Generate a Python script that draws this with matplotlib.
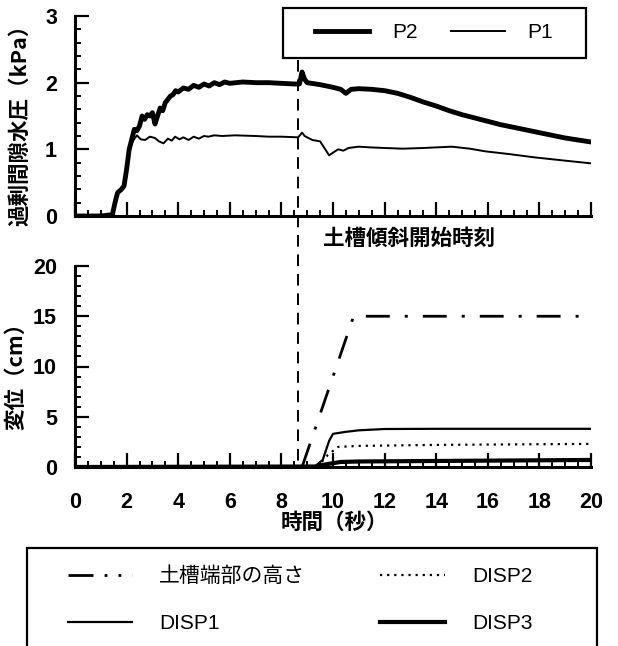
"""Excess pore pressure and displacement time histories."""

import matplotlib
matplotlib.use('Agg')
from matplotlib import pyplot
from matplotlib.lines import Line2D
from matplotlib.patches import Rectangle
from matplotlib.ticker import MultipleLocator

# Excess pore water pressure (kPa).
t_p2 = [0, 1.0, 1.45, 1.55, 1.65, 1.8, 1.9, 2.0, 2.1, 2.2, 2.3, 2.4, 2.5,
        2.6, 2.7, 2.8, 2.9, 3.0, 3.1, 3.2, 3.3, 3.4, 3.5, 3.6, 3.7, 3.8,
        3.9, 4.0, 4.2, 4.4, 4.6, 4.8, 5.0, 5.2, 5.4, 5.6, 5.8, 6.0, 6.5,
        7.0, 7.5, 8.0, 8.5, 8.7, 8.8, 8.9, 9.0, 9.5, 10.0, 10.3, 10.5, 10.7,
        11.0, 11.5, 12.0, 12.5, 13.0, 13.5, 14.0, 14.5, 15.0, 15.5, 16.0,
        16.5, 17.0, 17.5, 18.0, 18.5, 19.0, 19.5, 20.0]
p2 = [0, 0.0, 0.02, 0.2, 0.35, 0.4, 0.45, 0.7, 1.0, 1.15, 1.3, 1.28, 1.35,
      1.5, 1.45, 1.52, 1.5, 1.55, 1.38, 1.5, 1.62, 1.58, 1.7, 1.75, 1.8,
      1.82, 1.88, 1.86, 1.92, 1.9, 1.96, 1.93, 1.98, 1.95, 2.0, 1.97, 2.01,
      1.99, 2.01, 2.0, 2.0, 1.99, 1.98, 1.98, 2.16, 2.05, 2.0, 1.97, 1.93,
      1.9, 1.84, 1.9, 1.91, 1.9, 1.88, 1.84, 1.78, 1.71, 1.65, 1.58, 1.52,
      1.47, 1.42, 1.37, 1.33, 1.29, 1.25, 1.21, 1.17, 1.14, 1.11]
t_p1 = [0, 1.0, 1.45, 1.55, 1.65, 1.8, 1.9, 2.0, 2.1, 2.2, 2.27, 2.4, 2.55,
        2.72, 2.9, 3.1, 3.25, 3.43, 3.6, 3.75, 3.88, 4.05, 4.2, 4.4, 4.6,
        4.8, 5.0, 5.17, 5.4, 5.7, 6.2, 7.0, 7.5, 8.0, 8.65, 8.8, 8.9, 9.2,
        9.5, 9.7, 9.85, 10.0, 10.2, 10.4, 10.6, 11.0, 11.4, 12.0, 12.7, 13.5,
        14.6, 15.3, 15.9, 16.8, 17.8, 19.0, 20.0]
p1 = [0, 0.0, 0.02, 0.2, 0.35, 0.4, 0.45, 0.7, 0.95, 1.08, 1.14, 1.21, 1.15,
      1.14, 1.19, 1.17, 1.12, 1.09, 1.16, 1.13, 1.19, 1.15, 1.18, 1.14, 1.19,
      1.16, 1.2, 1.19, 1.21, 1.2, 1.21, 1.2, 1.19, 1.19, 1.18, 1.25, 1.2,
      1.14, 1.12, 1.0, 0.91, 0.95, 1.0, 0.98, 1.02, 1.04, 1.03, 1.02, 1.01,
      1.02, 1.04, 1.01, 0.97, 0.93, 0.88, 0.83, 0.79]

# Displacements (cm).
t_height = [0, 8.8, 10.8, 20]
height = [0, 0, 15, 15]
t_disp1 = [0, 9.3, 9.6, 9.85, 10.0, 10.5, 11.0, 12.0, 14.0, 20.0]
disp1 = [0, 0.05, 0.7, 2.6, 3.3, 3.5, 3.65, 3.78, 3.8, 3.8]
t_disp2 = [0, 9.4, 9.8, 10.2, 11.0, 14.0, 20.0]
disp2 = [0, 0.05, 1.2, 2.0, 2.1, 2.2, 2.3]
t_disp3 = [0, 9.3, 9.8, 10.3, 11.0, 14.0, 20.0]
disp3 = [0, 0.05, 0.3, 0.5, 0.55, 0.6, 0.7]

t_tilt = 8.65  # start of tank tilting (s)

W, H = 618, 646
pyplot.rcParams['font.family'] = ['Liberation Sans', 'Noto Sans CJK JP']
jp = ['Noto Sans CJK JP', 'DejaVu Sans']

fig = pyplot.figure(figsize=(W / 100, H / 100), dpi=100)
ax1 = fig.add_axes([75 / W, 1 - 216 / H, 516 / W, 200 / H])
ax2 = fig.add_axes([75 / W, 1 - 467 / H, 516 / W, 201 / H])

ax1.plot(t_p2, p2, color='black', linewidth=3.5, solid_joinstyle='round')
ax1.plot(t_p1, p1, color='black', linewidth=1.4)
ax1.set_xlim(0, 20)
ax1.set_ylim(0, 3)
ax1.yaxis.set_major_locator(MultipleLocator(1))
ax1.yaxis.set_minor_locator(MultipleLocator(0.2))
ax1.tick_params(axis='x', labelbottom=False)

dash_dot = (0, (8.6, 5.4, 1.1, 5.4))
ax2.plot(t_height, height, color='black', linewidth=2.0, linestyle=dash_dot)
ax2.plot(t_disp2, disp2, color='black', linewidth=1.6, linestyle=(0, (1, 2.2)))
ax2.plot(t_disp1, disp1, color='black', linewidth=1.6)
ax2.plot(t_disp3, disp3, color='black', linewidth=3.0)
ax2.set_xlim(0, 20)
ax2.set_ylim(0, 20)
ax2.yaxis.set_major_locator(MultipleLocator(5))
ax2.yaxis.set_minor_locator(MultipleLocator(1))

for ax in (ax1, ax2):
    ax.xaxis.set_major_locator(MultipleLocator(2))
    ax.xaxis.set_minor_locator(MultipleLocator(0.5))
    ax.spines['top'].set_visible(False)
    ax.spines['right'].set_visible(False)
    ax.spines['left'].set_linewidth(2.2)
    ax.spines['bottom'].set_linewidth(2.2)
    ax.tick_params(which='major', direction='in', length=10, width=1.6,
                   labelsize=15.5)
    ax.tick_params(which='minor', direction='in', length=4.5, width=1.4)
    ax.tick_params(axis='y', pad=13)
    ax.tick_params(axis='x', pad=18)
    for lbl in ax.get_xticklabels() + ax.get_yticklabels():
        lbl.set_fontweight('bold')

# Vertical dashed line marking the start of tilting, across both panels.
xpix = 75 + t_tilt / 20 * 516
fig.add_artist(Line2D([xpix / W, xpix / W], [1 - 60 / H, 1 - 466 / H],
                      color='black', linewidth=1.4,
                      linestyle=(0, (6, 4))))

# Labels.
fig.text(20 / W, 1 - 120 / H, '過剰間隙水圧（kPa）', rotation=90,
         ha='center', va='center', fontsize=15.5, family=jp,
         fontweight='bold')
fig.text(16 / W, 1 - 371 / H, '変位（cm）', rotation=90,
         ha='center', va='center', fontsize=15.5, family=jp,
         fontweight='bold')
fig.text(334 / W, 1 - 522 / H, '時間（秒）', ha='center', va='center',
         fontsize=15.5, family=jp, fontweight='bold')
fig.text(323 / W, 1 - 238 / H, '土槽傾斜開始時刻', ha='left', va='center',
         fontsize=15.5, family=jp, fontweight='bold')

# Top legend.
fig.add_artist(Rectangle((283 / W, 1 - 58 / H), 303 / W, 50 / H,
                         transform=fig.transFigure, facecolor='white',
                         edgecolor='black', linewidth=1.6, zorder=5))
h_p2 = Line2D([], [], color='black', linewidth=3.5)
h_p1 = Line2D([], [], color='black', linewidth=1.4)
leg1 = fig.legend([h_p2, h_p1], ['P2', 'P1'], ncol=2, frameon=False,
                  loc='center', bbox_to_anchor=(434 / W, 1 - 33 / H),
                  handlelength=2.6, handletextpad=1.1, columnspacing=1.6,
                  prop={'size': 15})
leg1.set_zorder(6)

# Bottom legend.
fig.add_artist(Rectangle((27 / W, -0.05), 570 / W, 1 - 548 / H + 0.05,
                         transform=fig.transFigure, facecolor='white',
                         edgecolor='black', linewidth=1.6, zorder=5))
h_height = Line2D([], [], color='black', linewidth=2.0,
                  linestyle=(0, (9, 4, 1, 4, 1, 4)))
h_disp1 = Line2D([], [], color='black', linewidth=1.6)
h_disp2 = Line2D([], [], color='black', linewidth=1.6, linestyle=(0, (1, 2.2)))
h_disp3 = Line2D([], [], color='black', linewidth=3.0)
leg2 = fig.legend([h_height, h_disp1, h_disp2, h_disp3],
                  ['土槽端部の高さ', 'DISP1', 'DISP2', 'DISP3'],
                  ncol=2, frameon=False, loc='center',
                  bbox_to_anchor=(300 / W, 1 - 600 / H),
                  handlelength=3.1, handletextpad=1.3, columnspacing=3.6,
                  labelspacing=1.35,
                  prop={'family': ['Liberation Sans', 'Noto Sans CJK JP'],
                        'size': 15})
leg2.set_zorder(6)

fig.savefig('out.png', dpi=100)
